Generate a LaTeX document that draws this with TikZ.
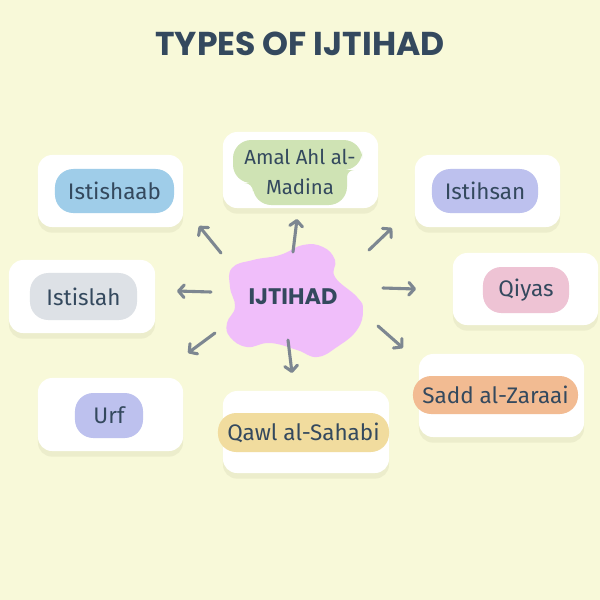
\documentclass[tikz,border=0pt]{standalone}
\usepackage{fontspec}
\setmainfont{Fira Sans}
\newfontfamily\titlefont{Poppins}
\usetikzlibrary{arrows.meta,shadows}

\definecolor{paper}{RGB}{248,249,217}
\definecolor{ink}{RGB}{52,73,94}
\definecolor{arrowgray}{RGB}{125,135,145}
\definecolor{shade}{RGB}{228,229,196}
\definecolor{blobpink}{RGB}{240,190,250}
\definecolor{skyblue}{RGB}{159,205,233}
\definecolor{mistgray}{RGB}{221,225,230}
\definecolor{sagegreen}{RGB}{207,227,180}
\definecolor{lavender}{RGB}{189,193,238}
\definecolor{rosepink}{RGB}{238,195,212}
\definecolor{sandgold}{RGB}{241,220,158}
\definecolor{peach}{RGB}{242,187,146}

\tikzset{
  card/.style={fill=white, rounded corners=10pt, inner sep=0pt,
    drop shadow={shadow xshift=0pt, shadow yshift=-4pt, fill=shade, opacity=.6}},
  pill/.style={fill=#1, rounded corners=13pt, inner sep=0pt, text=ink,
    font=\fontsize{16}{19}\selectfont},
  arrow/.style={draw=arrowgray, line width=2.2pt, line cap=round,
    -{Straight Barb[length=4pt,width=9pt,round]}},
}

\begin{document}
\begin{tikzpicture}[x=0.025cm, y=-0.025cm]
  \fill[paper] (0,0) rectangle (600,600);
  \useasboundingbox (0,0) rectangle (600,600);

  % title
  \node[text=ink, font=\titlefont\bfseries\fontsize{23.5}{28}\selectfont] (title) at (300,44) {TYPES OF IJTIHAD};

  % white cards
  \node[card, minimum width=3.625cm, minimum height=1.8cm]   (cistishaab) at (110.5,191)   {};
  \node[card, minimum width=3.65cm,  minimum height=1.825cm] (cistislah)  at (82,296.5)    {};
  \node[card, minimum width=3.875cm, minimum height=1.9cm]   (camal)      at (300.5,170)   {};
  \node[card, minimum width=3.625cm, minimum height=1.8cm]   (cistihsan)  at (487.5,191)   {};
  \node[card, minimum width=3.625cm, minimum height=1.8cm]   (cqiyas)     at (525.5,289)   {};
  \node[card, minimum width=3.625cm, minimum height=1.825cm] (curf)       at (110.5,414.5) {};
  \node[card, minimum width=4.15cm,  minimum height=2.05cm]  (cqawl)      at (306,432)     {};
  \node[card, minimum width=4.125cm, minimum height=2.075cm] (csadd)      at (501.5,395.5) {};

  % coloured labels
  \node[pill=skyblue,   minimum width=2.975cm, minimum height=1.1cm]   (istishaab) at (114.5,191)   {Istishaab};
  \node[pill=mistgray,  minimum width=2.675cm, minimum height=1.175cm] (istislah)  at (83.5,296.5)  {Istislah};
  \node[pill=lavender,  minimum width=2.65cm,  minimum height=1.1cm]   (istihsan)  at (485,191)     {Istihsan};
  \node[pill=rosepink,  minimum width=2.15cm,  minimum height=1.15cm]  (qiyas)     at (526,290)     {Qiyas};
  \node[pill=lavender,  minimum width=1.7cm,   minimum height=1.125cm] (urf)       at (109,415.5)   {Urf};
  \node[pill=sandgold,  minimum width=4.275cm, minimum height=0.975cm] (qawl)      at (303.5,432.5) {Qawl al-Sahabi};
  \node[pill=peach,     minimum width=4.125cm, minimum height=0.95cm]  (sadd)      at (495.5,395)   {Sadd al-Zaraai};

  % two-line label
  \fill[sagegreen, rounded corners=13pt] (300,140) -- (362,140) -- (362,170)
    [rounded corners=5pt] -- (347,170) [rounded corners=13pt] -- (347,205) -- (253,205)
    [rounded corners=6pt] -- (253,183) [rounded corners=13pt] -- (233,183) -- (233,140) -- cycle;
  \node[text=ink, align=center, font=\fontsize{14.5}{21}\selectfont] (amal) at (300,172) {Amal Ahl al-\\Madina};

  % centre blob
  \fill[blobpink] plot[smooth cycle, tension=0.75] coordinates {
    (232,268) (253,260) (280,255) (303,245) (323,247) (335,260) (335,277)
    (357,297) (363,310) (357,330) (337,347) (317,357) (297,350) (270,343)
    (247,347) (230,337) (227,323) (235,307) (230,287)};
  \node[text=ink, font=\titlefont\bfseries\fontsize{16}{19}\selectfont] (ij) at (293,297) {IJTIHAD};

  % arrows
  \foreach \n/\tx/\ty/\hx/\hy in {1/221/253/199/226, 2/293/252/297/219,
                                  3/369/250/392/228, 4/211/292/177/291,
                                  5/383/288/416/289, 6/215/333/188/353,
                                  7/288/340/292/373, 8/378/326/403/348} {
    \coordinate (tail\n) at (\tx,\ty);
    \coordinate (head\n) at (\hx,\hy);
    \draw[arrow] (tail\n) -- (head\n);
  }
\end{tikzpicture}
\end{document}
